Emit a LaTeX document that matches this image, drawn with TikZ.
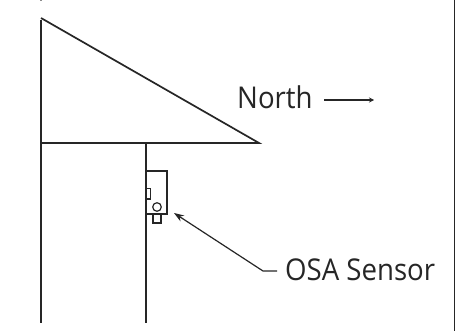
\documentclass[tikz,border=0pt]{standalone}
\usepackage{fontspec}
\setmainfont[FakeStretch=0.92]{Open Sans}
\usetikzlibrary{arrows.meta}
\tikzset{ln/.style={draw=black!85,line width=1.7pt,line cap=butt},thin ln/.style={draw=black!85,line width=1.2pt},
lbl/.style={font=\fontsize{30}{34}\selectfont,text=black!85,inner sep=0pt,anchor=base west}}
\begin{document}
\begin{tikzpicture}[x=1pt,y=-1pt]
\useasboundingbox (0,0) rectangle (460,331);
\fill[white] (0,0) rectangle (460,331);
\coordinate (apex) at (41,18);
\coordinate (eave) at (259,143);
\coordinate (wallL) at (41,323);
\coordinate (wallLtop) at (41,20);
\coordinate (roofL) at (40,143);
\coordinate (wallRtop) at (146,143);
\coordinate (wallR) at (146,323);
\draw[ln] (apex) -- (eave) -- (roofL);
\draw[ln] (wallLtop) -- (wallL);
\draw[ln] (wallRtop) -- (wallR);
\draw[draw=black!85,line width=1pt] (454,0) -- (454,331);
\draw[draw=black!45,line width=1.7pt] (41,0) -- (41,1);
\draw[thin ln] (146,171) -- (167,171) -- (167,214) -- (146,214);
\draw[thin ln] (146,188.5) -- (150.5,188.5) -- (150.5,199) -- (146,199);
\draw[thin ln] (157,207) circle (4.3);
\draw[thin ln] (153,214) -- (153,223) -- (161,223) -- (161,214);
\node[lbl] (north) at (237,108.5) {North};
\coordinate (nend) at (374,100);
\draw[draw=black!85,line width=1.2pt,-{Stealth[length=5pt,width=5pt]}] (324,100) -- (nend);
\node[lbl] (osa) at (285,280) {OSA Sensor};
\coordinate (kink) at (263,271);
\coordinate (tip) at (174,213);
\draw[draw=black!85,line width=1.2pt,-{Stealth[length=10pt,width=7pt]}] (277,271) -- (kink) -- (tip);
\end{tikzpicture}
\end{document}
